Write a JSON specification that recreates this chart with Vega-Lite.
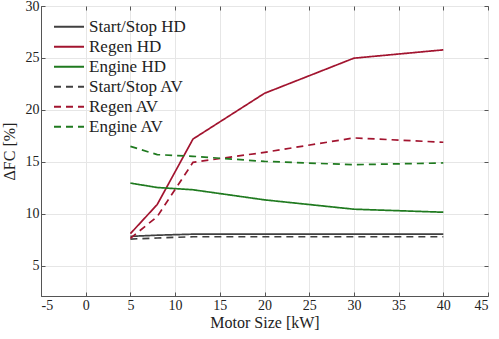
{
  "$schema": "https://vega.github.io/schema/vega-lite/v6.json",
  "width": 447,
  "height": 290,
  "autosize": "none",
  "padding": {"left": 41, "top": 6, "right": 11, "bottom": 43},
  "background": "white",
  "config": {
    "font": "Liberation Serif",
    "view": {"stroke": "#555555", "strokeWidth": 1},
    "legend": {"labelFont": "Liberation Serif"},
    "axis": {
      "labelFont": "Liberation Serif",
      "titleFont": "Liberation Serif",
      "labelFontSize": 14,
      "titleFontSize": 16,
      "titleFontWeight": "normal",
      "labelColor": "#222222",
      "titleColor": "#222222",
      "gridColor": "#e6e6e6",
      "domainColor": "#555555",
      "tickColor": "#555555",
      "tickSize": -4
    }
  },
  "data": {
    "values": [
      {"x": 5, "y": 7.84, "s": "Start/Stop HD"},
      {"x": 8, "y": 7.95, "s": "Start/Stop HD"},
      {"x": 12, "y": 8.05, "s": "Start/Stop HD"},
      {"x": 20, "y": 8.05, "s": "Start/Stop HD"},
      {"x": 30, "y": 8.05, "s": "Start/Stop HD"},
      {"x": 40, "y": 8.05, "s": "Start/Stop HD"},
      {"x": 5, "y": 8.1, "s": "Regen HD"},
      {"x": 8, "y": 10.9, "s": "Regen HD"},
      {"x": 12, "y": 17.2, "s": "Regen HD"},
      {"x": 20, "y": 21.6, "s": "Regen HD"},
      {"x": 30, "y": 24.98, "s": "Regen HD"},
      {"x": 40, "y": 25.78, "s": "Regen HD"},
      {"x": 5, "y": 12.96, "s": "Engine HD"},
      {"x": 8, "y": 12.54, "s": "Engine HD"},
      {"x": 12, "y": 12.32, "s": "Engine HD"},
      {"x": 20, "y": 11.35, "s": "Engine HD"},
      {"x": 30, "y": 10.45, "s": "Engine HD"},
      {"x": 40, "y": 10.16, "s": "Engine HD"},
      {"x": 5, "y": 7.58, "s": "Start/Stop AV"},
      {"x": 8, "y": 7.68, "s": "Start/Stop AV"},
      {"x": 12, "y": 7.8, "s": "Start/Stop AV"},
      {"x": 20, "y": 7.8, "s": "Start/Stop AV"},
      {"x": 30, "y": 7.8, "s": "Start/Stop AV"},
      {"x": 40, "y": 7.8, "s": "Start/Stop AV"},
      {"x": 5, "y": 7.65, "s": "Regen AV"},
      {"x": 8, "y": 9.74, "s": "Regen AV"},
      {"x": 12, "y": 14.96, "s": "Regen AV"},
      {"x": 20, "y": 15.92, "s": "Regen AV"},
      {"x": 30, "y": 17.31, "s": "Regen AV"},
      {"x": 40, "y": 16.89, "s": "Regen AV"},
      {"x": 5, "y": 16.5, "s": "Engine AV"},
      {"x": 8, "y": 15.7, "s": "Engine AV"},
      {"x": 12, "y": 15.54, "s": "Engine AV"},
      {"x": 20, "y": 15.05, "s": "Engine AV"},
      {"x": 30, "y": 14.73, "s": "Engine AV"},
      {"x": 40, "y": 14.9, "s": "Engine AV"}
    ]
  },
  "layer": [
    {
      "mark": {"type": "line", "strokeWidth": 1.7},
      "encoding": {
        "x": {
          "field": "x", "type": "quantitative",
          "scale": {"domain": [-5, 45], "nice": false},
          "axis": {"values": [-5, 0, 5, 10, 15, 20, 25, 30, 35, 40, 45], "labelExpr": "replace(datum.label, '−', '-')", "title": "Motor Size [kW]", "titlePadding": 2, "labelPadding": 6}
        },
        "y": {
          "field": "y", "type": "quantitative",
          "scale": {"domain": [2.1, 30], "nice": false, "zero": false},
          "axis": {"values": [5, 10, 15, 20, 25, 30], "title": "ΔFC [%]", "titlePadding": 8, "labelPadding": 6}
        },
        "color": {
          "field": "s", "type": "nominal",
          "scale": {
            "domain": ["Start/Stop HD", "Regen HD", "Engine HD", "Start/Stop AV", "Regen AV", "Engine AV"],
            "range": ["#404040", "#A2142F", "#1f7a1f", "#404040", "#A2142F", "#1f7a1f"]
          },
          "legend": {
            "title": null,
            "orient": "none",
            "legendX": 12,
            "legendY": 11,
            "symbolType": "stroke",
            "symbolSize": 900,
            "symbolStrokeWidth": 2,
            "labelFontSize": 17,
            "labelFont": "Liberation Serif",
            "labelColor": "#222222",
            "rowPadding": 0,
            "clipHeight": 19.6,
            "labelOffset": 4
          }
        },
        "strokeDash": {
          "field": "s", "type": "nominal",
          "scale": {
            "domain": ["Start/Stop HD", "Regen HD", "Engine HD", "Start/Stop AV", "Regen AV", "Engine AV"],
            "range": [[1, 0], [1, 0], [1, 0], [7, 5], [7, 5], [7, 5]]
          },
          "legend": {
            "title": null,
            "orient": "none",
            "legendX": 12,
            "legendY": 11,
            "symbolType": "stroke",
            "symbolSize": 900,
            "symbolStrokeWidth": 2,
            "labelFontSize": 17,
            "labelFont": "Liberation Serif",
            "labelColor": "#222222",
            "rowPadding": 0,
            "clipHeight": 19.6,
            "labelOffset": 4
          }
        }
      }
    },
    {
      "mark": {"type": "point", "opacity": 0},
      "encoding": {
        "x": {
          "field": "x", "type": "quantitative",
          "axis": {"orient": "top", "values": [-5, 0, 5, 10, 15, 20, 25, 30, 35, 40, 45], "labels": false, "grid": false, "title": null, "domain": false}
        },
        "y": {
          "field": "y", "type": "quantitative",
          "axis": {"orient": "right", "values": [5, 10, 15, 20, 25, 30], "labels": false, "grid": false, "title": null, "domain": false}
        }
      }
    }
  ],
  "resolve": {"axis": {"x": "independent", "y": "independent"}}
}
